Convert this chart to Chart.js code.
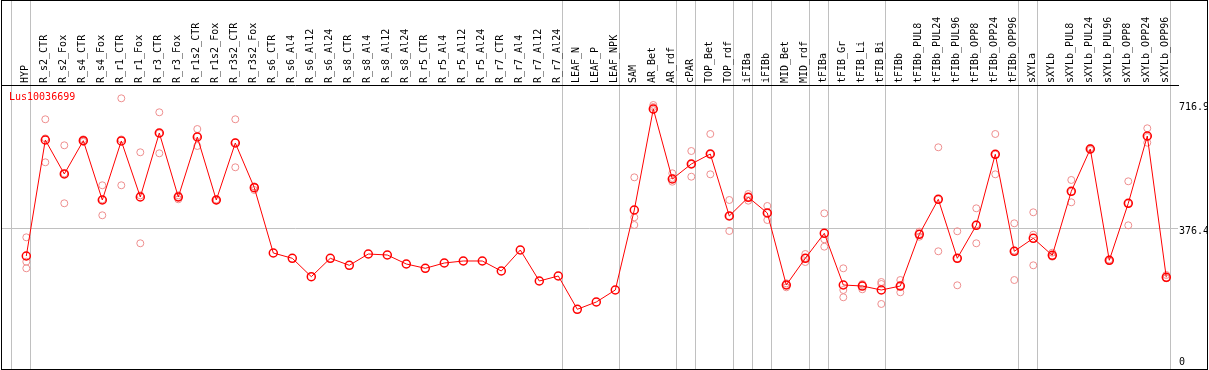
<!DOCTYPE html>
<html lang="en">
<head>
  <meta charset="UTF-8">
  <title>Lus10036699</title>
  <script src="https://cdn.jsdelivr.net/npm/chart.js"></script>
  <style>
    body {
      margin: 0;
      background: #fff;
    }
    .wrap {
      position: relative;
      width: 1209px;
      height: 370px;
    }
    .gene {
      position: absolute;
      left: 9px;
      top: 92px;
      font: 10px/10px "DejaVu Sans Mono", monospace;
      color: red;
    }
  </style>
</head>
<body>
  <div class="wrap">
    <canvas id="chart" width="1209" height="370"></canvas>
    <div class="gene">Lus10036699</div>
  </div>

  <script>
    // sample names, left to right
    const categories = [
      "HYP", "R_s2_CTR", "R_s2_Fox", "R_s4_CTR", "R_s4_Fox", "R_r1_CTR", "R_r1_Fox",
      "R_r3_CTR", "R_r3_Fox", "R_r1s2_CTR", "R_r1s2_Fox", "R_r3s2_CTR", "R_r3s2_Fox",
      "R_s6_CTR", "R_s6_Al4", "R_s6_Al12", "R_s6_Al24", "R_s8_CTR", "R_s8_Al4", "R_s8_Al12",
      "R_s8_Al24", "R_r5_CTR", "R_r5_Al4", "R_r5_Al12", "R_r5_Al24", "R_r7_CTR", "R_r7_Al4",
      "R_r7_Al12", "R_r7_Al24", "LEAF_N", "LEAF_P", "LEAF_NPK", "SAM", "AR_Bet", "AR_rdf",
      "cPAR", "TOP_Bet", "TOP_rdf", "iFIBa", "iFIBb", "MID_Bet", "MID_rdf", "tFIBa",
      "tFIB_Gr", "tFIB_Li", "tFIB_Bi", "tFIBb", "tFIBb_PUL8", "tFIBb_PUL24", "tFIBb_PUL96",
      "tFIBb_OPP8", "tFIBb_OPP24", "tFIBb_OPP96", "sXYLa", "sXYLb", "sXYLb_PUL8",
      "sXYLb_PUL24", "sXYLb_PUL96", "sXYLb_OPP8", "sXYLb_OPP24", "sXYLb_OPP96"
    ];

    // mean expression per sample
    const meanValues = [
      300.6, 617.7, 524.8, 615.8, 453.7, 615.0, 461.9, 636.8, 461.9, 625.9, 453.7, 609.5, 487.3,
      308.8, 294.4, 244.1, 294.4, 275.2, 306.1, 303.4, 278.8, 267.0, 281.5, 287.0, 287.0,
      259.6, 317.0, 232.3, 246.0, 155.0, 174.9, 207.7,
      426.4, 702.4, 511.1, 552.1, 579.4, 410.0, 461.1, 418.2, 221.4, 294.4, 362.7, 221.4,
      218.6, 207.7, 218.6, 360.0, 455.6, 294.4, 384.5, 578.6, 313.5, 349.0, 302.6, 477.5,
      593.1, 288.9, 444.7, 628.6, 242.4
    ];

    // replicates (null = none shown)
    const repHigh = [
      351.7, 674.3, 603.2, 619.6, 493.9, 731.6, 584.1, 693.4, 466.5, 647.7, 455.1, 674.3, 491.1,
      null, null, null, null, null, null, null, null, null, null, null, null, null, null, null, null,
      null, null, null,
      515.7, 713.3, 526.7, 587.6, 634.1, 453.7, 470.1, 437.3, 226.0, 306.1, 417.3, 267.0,
      224.1, 229.6, 235.0, 367.1, 597.7, 368.2, 431.0, 634.1, 390.0, 420.1, 309.7, 508.4,
      595.8, 291.0, 504.8, 649.7, 248.7
    ];
    const repMid = [
      285.1, 622.1, 526.4, 615.0, 455.3, 619.3, 466.3, 635.7, 461.9, 628.6, 453.7, 611.1, 490.0,
      null, null, null, null, null, null, null, null, null, null, null, null, null, null, null, null,
      null, null, null,
      406.4, 707.9, 513.8, 552.1, 579.4, 410.0, 461.9, 418.2, 221.4, 295.2, 346.3, 207.7,
      221.4, 224.1, 218.6, 360.8, 455.3, 294.1, 387.0, 577.8, 315.4, 358.9, 300.6, 476.4,
      593.1, 288.9, 444.7, 625.9, 240.5
    ];
    const repLow = [
      267.0, 556.7, 444.7, 612.8, 411.9, 493.9, 335.4, 581.3, 455.6, 601.3, 452.3, 543.1, 481.0,
      null, null, null, null, null, null, null, null, null, null, null, null, null, null, null, null,
      null, null, null,
      385.4, 699.7, 503.7, 517.4, 523.9, 369.0, 451.8, 399.0, 215.1, 284.2, 326.1, 187.8,
      209.6, 169.5, 201.4, 353.4, 313.5, 220.6, 335.4, 523.9, 235.0, 275.2, 298.7, 447.4,
      590.4, 287.0, 384.5, 610.3, 239.7
    ];

    const yTicks = [0, 376.4, 716.9];
    // groups end after these sample indexes (-1 = left edge)
    const groupEnds = [-1, 0, 28, 31, 34, 35, 37, 38, 39, 41, 42, 45, 52, 53, 60];

    Chart.defaults.font.family = "'DejaVu Sans Mono', monospace";
    Chart.defaults.font.size = 10;
    Chart.defaults.color = "#000";

    const toPoints = arr => arr.map((v, i) => ({ x: i, y: v }));

    function repSet(arr) {
      return {
        data: toPoints(arr),
        showLine: false,
        pointStyle: "circle",
        pointRadius: 3.5,
        pointBorderWidth: 1,
        pointBorderColor: "#ee8e8e",
        pointBackgroundColor: "rgba(0,0,0,0)"
      };
    }

    // gray separators and the outer box
    const frame = {
      id: "frame",
      beforeDraw(chart) {
        const c = chart.ctx;
        const xs = chart.scales.x;
        c.save();
        c.strokeStyle = "#c0c0c0";
        c.lineWidth = 1;
        groupEnds.forEach(i => {
          const px = Math.round(xs.getPixelForValue(i + 0.22)) + 0.5;
          c.beginPath();
          c.moveTo(px, 0);
          c.lineTo(px, 370);
          c.stroke();
        });
        c.restore();
      },
      afterDraw(chart) {
        const c = chart.ctx;
        c.save();
        c.strokeStyle = "#000";
        c.lineWidth = 1;
        c.strokeRect(1.5, 0.5, 1206, 369);
        c.restore();
      }
    };

    new Chart(document.getElementById("chart"), {
      type: "line",
      data: {
        datasets: [
          {
            data: toPoints(meanValues),
            borderColor: "red",
            borderWidth: 1,
            tension: 0,
            pointStyle: "circle",
            pointRadius: 4,
            pointBorderWidth: 1.5,
            pointBorderColor: "red",
            pointBackgroundColor: "rgba(0,0,0,0)"
          },
          repSet(repHigh),
          repSet(repMid),
          repSet(repLow)
        ]
      },
      options: {
        responsive: false,
        animation: false,
        devicePixelRatio: 1,
        layout: { autoPadding: false, padding: { left: 1, right: 2, top: 0, bottom: 4 } },
        plugins: {
          legend: { display: false },
          tooltip: { enabled: false }
        },
        scales: {
          x: {
            type: "linear",
            position: "top",
            min: -1.3316,
            max: 60.616,
            grid: { display: false, drawTicks: false },
            border: { display: true, color: "#000", width: 1 },
            ticks: {
              autoSkip: false,
              minRotation: 90,
              maxRotation: 90,
              padding: 2,
              font: { size: 10, lineHeight: 0.1 },
              callback: (v, i) => categories[i]
            },
            afterBuildTicks: s => { s.ticks = categories.map((c, i) => ({ value: i })); },
            afterFit: s => {
              s.height = 85;
              s.paddingLeft = 0;
              s.paddingRight = 0;
            }
          },
          y: {
            position: "right",
            min: 0,
            max: 768,
            grid: {
              drawTicks: false,
              color: ctx => (ctx.tick && ctx.tick.value === 376.4 ? "#c0c0c0" : "rgba(0,0,0,0)")
            },
            border: { display: false },
            ticks: {
              padding: 1,
              labelOffset: 3.5,
              font: { size: 10, lineHeight: 1.5 },
              callback: v => (v === 0 ? ["0", ""] : String(v))
            },
            afterBuildTicks: s => { s.ticks = yTicks.map(v => ({ value: v })); },
            afterFit: s => {
              s.width = 29;
              s.paddingTop = 0;
              s.paddingBottom = 0;
            }
          }
        }
      },
      plugins: [frame]
    });
  </script>
</body>
</html>
